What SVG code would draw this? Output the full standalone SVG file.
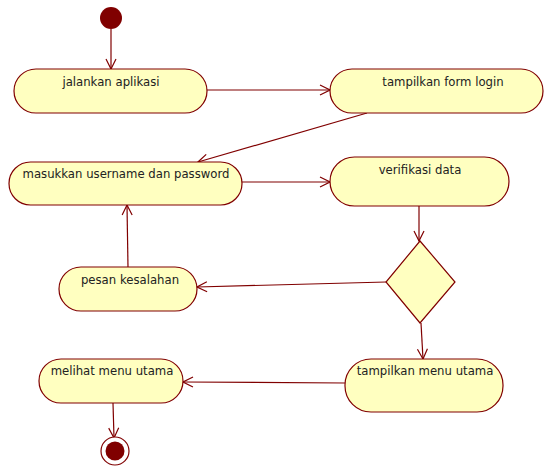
<svg xmlns="http://www.w3.org/2000/svg" width="544" height="467" viewBox="0 0 544 467">
<defs>
<style>
.act{fill:#ffffc0;stroke:#800000;stroke-width:1.2}
.t{font-family:"DejaVu Sans",Verdana,sans-serif;font-size:11.7px;fill:#222;text-anchor:middle}
.c{fill:none;stroke:#800000;stroke-width:1.2}
</style>
<marker id="a" viewBox="0 0 12 12" refX="11" refY="6" markerWidth="12" markerHeight="12" markerUnits="userSpaceOnUse" orient="auto">
<path d="M1,1 L11,6 L1,11" fill="none" stroke="#800000" stroke-width="1.2"/>
</marker>
</defs>
<rect width="544" height="467" fill="#fff"/>
<g id="connectors">
<line class="c" x1="111" y1="29" x2="111" y2="69" marker-end="url(#a)"/>
<line class="c" x1="207" y1="90" x2="330" y2="90" marker-end="url(#a)"/>
<line class="c" x1="367" y1="113" x2="198" y2="162" marker-end="url(#a)"/>
<line class="c" x1="242" y1="182" x2="330" y2="182" marker-end="url(#a)"/>
<line class="c" x1="419" y1="206" x2="419" y2="241" marker-end="url(#a)"/>
<line class="c" x1="386" y1="282" x2="197" y2="287" marker-end="url(#a)"/>
<line class="c" x1="128" y1="267" x2="127" y2="205" marker-end="url(#a)"/>
<line class="c" x1="421" y1="323" x2="423" y2="359" marker-end="url(#a)"/>
<line class="c" x1="345" y1="383" x2="183" y2="382" marker-end="url(#a)"/>
<line class="c" x1="113" y1="403" x2="114" y2="438" marker-end="url(#a)"/>
</g>
<g id="start"><circle cx="111" cy="18" r="11" fill="#800000"/></g>
<g id="jalankan"><rect class="act" x="14" y="69" width="193" height="44" rx="22"/><text class="t" x="111" y="86">jalankan aplikasi</text></g>
<g id="formlogin"><rect class="act" x="330" y="69" width="213" height="44" rx="22"/><text class="t" x="443" y="86">tampilkan form login</text></g>
<g id="masukkan"><rect class="act" x="9" y="162" width="233" height="43" rx="21.5"/><text class="t" x="126" y="178">masukkan username dan password</text></g>
<g id="verifikasi"><rect class="act" x="330" y="157" width="179" height="49" rx="24.5"/><text class="t" x="420" y="174">verifikasi data</text></g>
<g id="decision"><polygon class="act" points="420,241 455,282 420,323 386,282"/></g>
<g id="pesan"><rect class="act" x="59" y="267" width="138" height="44" rx="22"/><text class="t" x="130" y="284">pesan kesalahan</text></g>
<g id="tampilkanmenu"><rect class="act" x="345" y="359" width="158" height="53" rx="26"/><text class="t" x="425" y="375">tampilkan menu utama</text></g>
<g id="melihat"><rect class="act" x="39" y="359" width="144" height="44" rx="22"/><text class="t" x="112" y="375">melihat menu utama</text></g>
<g id="end"><circle cx="115" cy="451" r="14" fill="#fff" stroke="#800000" stroke-width="1.2"/><circle cx="115" cy="451" r="9.5" fill="#800000"/></g>
</svg>
